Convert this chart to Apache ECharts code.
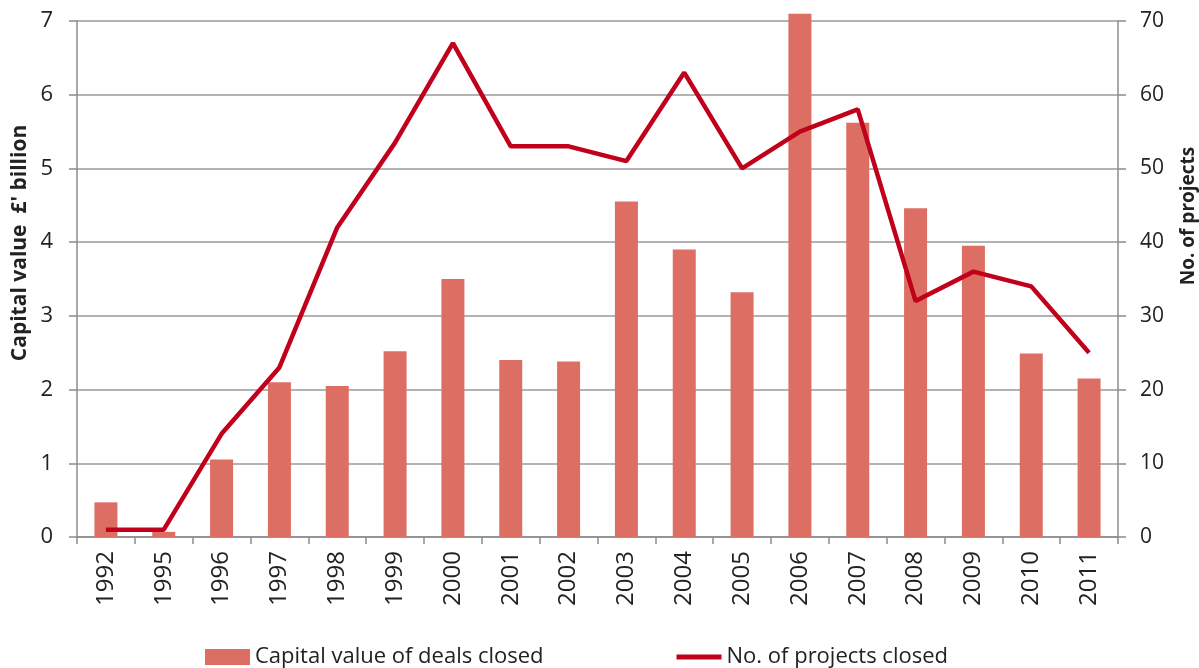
<!DOCTYPE html>
<html>
<head>
<meta charset="utf-8">
<script src="https://cdn.jsdelivr.net/npm/echarts@6/dist/echarts.min.js"></script>
<style>
  html, body { margin: 0; padding: 0; background: #fff; }
  #chart { width: 1199px; height: 668px; }
</style>
</head>
<body>
<div id="chart"></div>
<script>
var years = ['1992','1995','1996','1997','1998','1999','2000','2001','2002','2003','2004','2005','2006','2007','2008','2009','2010','2011'];
// capital value of deals closed, £ billion
var capitalValue = [0.47, 0.07, 1.05, 2.1, 2.05, 2.52, 3.5, 2.4, 2.38, 4.55, 3.9, 3.32, 7.1, 5.62, 4.46, 3.95, 2.49, 2.15];
// number of projects closed
var projects = [1, 1, 14, 23, 42, 53.5, 67, 53, 53, 51, 63, 50, 55, 58, 32, 36, 34, 25];
var leftTicks = [0, 7, 1];
var rightTicks = [0, 70, 10];

var FONT = '"Open Sans", "DejaVu Sans", sans-serif';

var chart = echarts.init(document.getElementById('chart'));
var option = {
    animation: false,
    grid: { left: 77, right: 81, top: 21, bottom: 131 },
    legend: {
        left: 200,
        top: 641,
        itemWidth: 45,
        itemHeight: 16,
        itemGap: 133,
        textStyle: { fontFamily: FONT, fontSize: 22, color: '#222' },
        data: [
            { name: 'Capital value of deals closed', icon: 'rect' },
            { name: 'No. of projects closed', icon: 'path://M0,0 H45 V5 H0 Z' }
        ]
    },
    graphic: [
        {
            type: 'text', x: 20, y: 243, rotation: Math.PI / 2,
            style: { text: "Capital value  £' billion", fontFamily: FONT, fontSize: 21, fontWeight: 'bold', fill: '#222', align: 'center', verticalAlign: 'middle' }
        },
        {
            type: 'text', x: 1189, y: 216, rotation: Math.PI / 2,
            style: { text: 'No. of projects', fontFamily: FONT, fontSize: 19, fontWeight: 'bold', fill: '#222', align: 'center', verticalAlign: 'middle' }
        }
    ],
    xAxis: {
        type: 'category',
        data: years,
        boundaryGap: true,
        axisLine: { lineStyle: { color: '#8c8c8c', width: 1.5 } },
        axisTick: { show: true, length: 7, alignWithLabel: false, lineStyle: { color: '#8c8c8c', width: 1.5 } },
        axisLabel: { rotate: 90, margin: 14, fontFamily: FONT, fontSize: 24, color: '#222', interval: 0 }
    },
    yAxis: [
        {
            type: 'value',
            min: leftTicks[0], max: leftTicks[1], interval: leftTicks[2],
            axisLine: { show: true, lineStyle: { color: '#8c8c8c', width: 1.5 } },
            axisTick: { show: true, length: 8, lineStyle: { color: '#8c8c8c', width: 1.5 } },
            splitLine: { show: true, lineStyle: { color: '#9a9a9a', width: 1.5 } },
            axisLabel: { margin: 24, fontFamily: FONT, fontSize: 22, color: '#222' }
        },
        {
            type: 'value',
            min: rightTicks[0], max: rightTicks[1], interval: rightTicks[2],
            position: 'right',
            axisLine: { show: true, lineStyle: { color: '#8c8c8c', width: 1.5 } },
            axisTick: { show: true, length: 8, lineStyle: { color: '#8c8c8c', width: 1.5 } },
            splitLine: { show: false },
            axisLabel: { margin: 22, fontFamily: FONT, fontSize: 21, color: '#222' }
        }
    ],
    series: [
        {
            name: 'Capital value of deals closed',
            type: 'bar',
            yAxisIndex: 0,
            data: capitalValue,
            barWidth: 23,
            clip: false,
            itemStyle: { color: '#DC6E64' }
        },
        {
            name: 'No. of projects closed',
            type: 'line',
            yAxisIndex: 1,
            data: projects,
            symbol: 'none',
            lineStyle: { color: '#C1001C', width: 4.5 },
            itemStyle: { color: '#C1001C' }
        }
    ]
};
chart.setOption(option);
</script>
</body>
</html>
